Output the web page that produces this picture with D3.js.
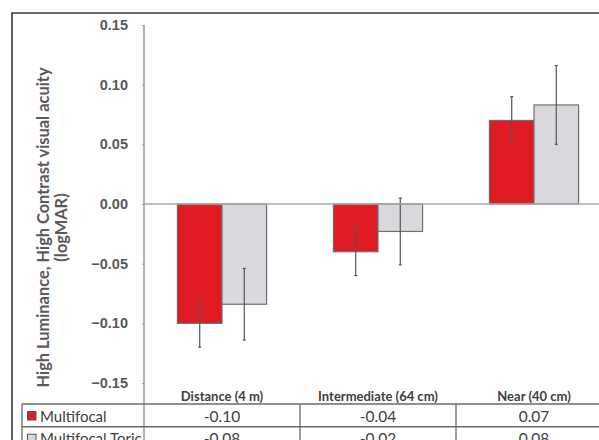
<!DOCTYPE html>
<html>
<head>
<meta charset="utf-8">
<script src="https://cdn.jsdelivr.net/npm/d3@7"></script>
<style>
  body { margin: 0; background: #fff; }
  svg { display: block; font-family: Lato, "Open Sans", sans-serif; }
</style>
</head>
<body>
<svg width="599" height="440"></svg>
<script>
// data
const categories = ["Distance (4 m)", "Intermediate (64 cm)", "Near (40 cm)"];
const seriesNames = ["Multifocal", "Multifocal Toric"];
const multifocal = [-0.10, -0.04, 0.07];
const multifocalToric = [-0.084, -0.023, 0.083];
const multifocalErr = [0.02, 0.02, 0.02];
const toricErr = [0.03, 0.028, 0.033];
const yTicks = [-0.15, -0.10, -0.05, 0.00, 0.05, 0.10, 0.15];
const colors = ["#e01b24", "#d8d8dd"];

const svg = d3.select("svg");
const values = [multifocal, multifocalToric];
const errors = [multifocalErr, toricErr];

// scales: the plot runs past the right edge of the picture (cropped)
const x0 = d3.scaleBand().domain(categories).range([144, 612]);
const half = x0.bandwidth() / 1.75 / 2;
const x1 = d3.scaleBand().domain(seriesNames)
    .range([x0.bandwidth() / 2 - half, x0.bandwidth() / 2 + half]);
const y = d3.scaleLinear().domain([-0.15, 0.15]).range([383, 25]);

// outer frame (only left and top visible)
svg.append("path")
    .attr("d", "M12,440 L12,13 L599,13")
    .attr("fill", "none")
    .attr("stroke", "#3a3a3a")
    .attr("stroke-width", 1.6);

// y axis
const yAxis = d3.axisLeft(y)
    .tickValues(yTicks)
    .tickFormat(d3.format(".2f"))
    .tickSize(2)
    .tickPadding(14);
const gy = svg.append("g").attr("transform", "translate(144,0)").call(yAxis);
gy.select(".domain").remove();
gy.selectAll(".tick line").attr("stroke", "#999");
gy.selectAll("text")
    .attr("fill", "#595959")
    .attr("font-size", 14.5)
    .attr("font-weight", "bold");

// axis line goes down through the table
svg.append("line")
    .attr("x1", 144).attr("x2", 144)
    .attr("y1", y(0.15)).attr("y2", 440)
    .attr("stroke", "#9a9a9a").attr("stroke-width", 1.5);

// y title
svg.append("text")
    .attr("transform", `translate(49,${(y(0.15) + 430) / 2}) rotate(-90)`)
    .attr("text-anchor", "middle")
    .attr("fill", "#595959")
    .attr("font-size", 16.4)
    .attr("font-weight", "bold")
    .selectAll("tspan")
    .data(["High Luminance, High Contrast visual acuity", "(logMAR)"])
    .join("tspan")
    .attr("x", 0)
    .attr("dy", (d, i) => i == 0 ? 0 : 18)
    .text(d => d);

// bars
const groups = svg.append("g").selectAll("g")
    .data(categories)
    .join("g")
    .attr("transform", d => `translate(${x0(d)},0)`);

groups.selectAll("rect")
    .data((d, i) => seriesNames.map((s, j) => ({ s, v: values[j][i], e: errors[j][i], j })))
    .join("rect")
    .attr("x", d => x1(d.s))
    .attr("width", x1.bandwidth())
    .attr("y", d => y(Math.max(0, d.v)))
    .attr("height", d => Math.abs(y(d.v) - y(0)))
    .attr("fill", d => colors[d.j])
    .attr("stroke", "#6e6e6e")
    .attr("stroke-width", 1.2);

// zero line
svg.append("line")
    .attr("x1", 144).attr("x2", 599)
    .attr("y1", y(0)).attr("y2", y(0))
    .attr("stroke", "#a8a8a8").attr("stroke-width", 1.3);

// error bars
const err = groups.selectAll("g.err")
    .data((d, i) => seriesNames.map((s, j) => ({ s, v: values[j][i], e: errors[j][i] })))
    .join("g")
    .attr("class", "err")
    .attr("stroke", "#555")
    .attr("stroke-width", 1.2);
err.append("line")
    .attr("x1", d => x1(d.s) + x1.bandwidth() / 2)
    .attr("x2", d => x1(d.s) + x1.bandwidth() / 2)
    .attr("y1", d => y(d.v - d.e))
    .attr("y2", d => y(d.v + d.e));
[-1, 1].forEach(k => {
    err.append("line")
        .attr("x1", d => x1(d.s) + x1.bandwidth() / 2 - 1.5)
        .attr("x2", d => x1(d.s) + x1.bandwidth() / 2 + 1.5)
        .attr("y1", d => y(d.v + k * d.e))
        .attr("y2", d => y(d.v + k * d.e));
});

// data table
const tableTop = 404;
const rowH = 22.7;
const table = svg.append("g");
table.selectAll("text.head")
    .data(categories)
    .join("text")
    .attr("class", "head")
    .attr("x", d => x0(d) + x0.bandwidth() / 2)
    .attr("y", tableTop - 3)
    .attr("text-anchor", "middle")
    .attr("fill", "#404040")
    .attr("font-size", 13)
    .attr("font-weight", "bold")
    .text(d => d);

// horizontal rules
[0, 1].forEach(r => {
    table.append("line")
        .attr("x1", 22).attr("x2", 612)
        .attr("y1", tableTop + r * rowH).attr("y2", tableTop + r * rowH)
        .attr("stroke", "#6a6a6a").attr("stroke-width", 1.5);
});
// vertical rules
[22, x0(categories[1]), x0(categories[2])].forEach(xv => {
    table.append("line")
        .attr("x1", xv).attr("x2", xv)
        .attr("y1", tableTop).attr("y2", 440)
        .attr("stroke", "#6a6a6a").attr("stroke-width", 1.3);
});

seriesNames.forEach((s, j) => {
    const top = tableTop + j * rowH;
    table.append("rect")
        .attr("x", 27.5).attr("y", top + 7.5)
        .attr("width", 8.5).attr("height", 8.5)
        .attr("fill", colors[j])
        .attr("stroke", "#555").attr("stroke-width", 1);
    table.append("text")
        .attr("x", 40).attr("y", top + 17.5)
        .attr("fill", "#404040")
        .attr("font-size", 15)
        .text(s);
    table.selectAll(null)
        .data(categories)
        .join("text")
        .attr("x", d => x0(d) + x0.bandwidth() / 2)
        .attr("y", top + 17.5)
        .attr("text-anchor", "middle")
        .attr("fill", "#404040")
        .attr("font-size", 15.5)
        .text((d, i) => d3.format(".2f")(values[j][i]).replace("−", "-"));
});
</script>
</body>
</html>
